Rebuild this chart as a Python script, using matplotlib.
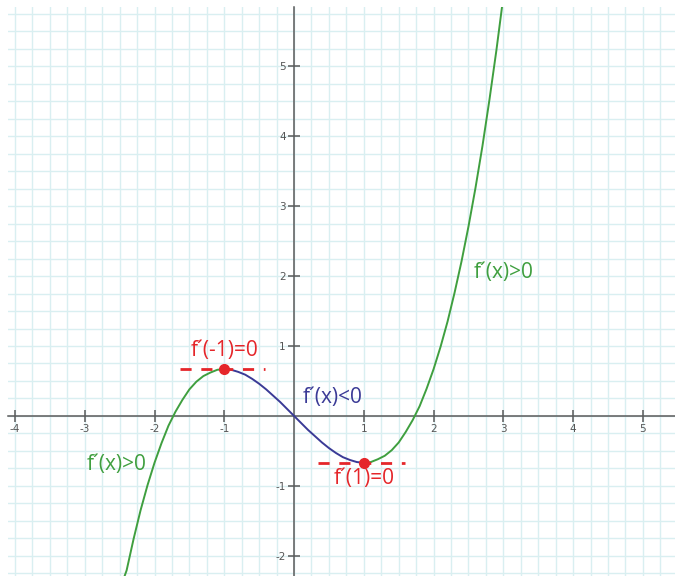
import matplotlib.pyplot as plt
import numpy as np

# colours
green = '#3f9f3f'
navy = '#3a3a96'
red = '#e5262a'
grid_col = '#d9eff1'
axis_col = '#5a5a5a'

# curve points
x_left = [-2.45, -2.4, -2.3, -2.2, -2.1, -2.0, -1.9, -1.8, -1.7, -1.6, -1.5,
          -1.4, -1.3, -1.2, -1.1, -1.0]
y_left = [-2.35, -2.21, -1.76, -1.35, -0.99, -0.67, -0.39, -0.14, 0.06, 0.23, 0.38,
          0.49, 0.57, 0.62, 0.66, 0.67]

x_mid = [-1.0, -0.9, -0.8, -0.7, -0.6, -0.5, -0.4, -0.3, -0.2, -0.1, 0.0,
         0.1, 0.2, 0.3, 0.4, 0.5, 0.6, 0.7, 0.8, 0.9, 1.0]
y_mid = [0.67, 0.66, 0.63, 0.59, 0.53, 0.46, 0.38, 0.29, 0.20, 0.10, 0.0,
         -0.10, -0.20, -0.29, -0.38, -0.46, -0.53, -0.59, -0.63, -0.66, -0.67]

x_right = [1.0, 1.1, 1.2, 1.3, 1.4, 1.5, 1.6, 1.7, 1.8, 1.9, 2.0, 2.1, 2.2,
           2.3, 2.4, 2.5, 2.6, 2.7, 2.8, 2.9, 3.0]
y_right = [-0.67, -0.66, -0.62, -0.57, -0.49, -0.38, -0.23, -0.06, 0.14, 0.39,
           0.67, 0.99, 1.35, 1.76, 2.21, 2.71, 3.26, 3.86, 4.52, 5.23, 6.0]

# extrema and their tangent lines
ext_x = [-1.0, 1.0]
ext_y = [0.67, -0.67]
tan_x0 = [-1.63, 0.34]
tan_x1 = [-0.42, 1.59]

x_ticks = [-4, -3, -2, -1, 1, 2, 3, 4, 5]
y_ticks = [-2, -1, 1, 2, 3, 4, 5]

fig = plt.figure(figsize=(6.75, 5.76), dpi=100, facecolor='white')
ax = fig.add_axes([8 / 675, 0, 1 - 8 / 675, 1 - 7 / 576])
ax.set_xlim(-4.10, 5.46)
ax.set_ylim(-2.29, 5.85)

# grid every 0.25
for gx in np.arange(-4.0, 5.5, 0.25):
    ax.axvline(gx, color=grid_col, lw=1, zorder=0)
for gy in np.arange(-2.25, 5.9, 0.25):
    ax.axhline(gy, color=grid_col, lw=1, zorder=0)

# axes through the origin
for s in ['top', 'right']:
    ax.spines[s].set_visible(False)
for s in ['left', 'bottom']:
    ax.spines[s].set_position(('data', 0))
    ax.spines[s].set_color(axis_col)
    ax.spines[s].set_linewidth(1.1)
    ax.spines[s].set_zorder(2)

ax.set_xticks(x_ticks)
ax.set_yticks(y_ticks)
ax.set_xticklabels([str(t) for t in x_ticks])
ax.set_yticklabels([str(t) for t in y_ticks])
ax.tick_params(direction='inout', length=8, width=1.1, color=axis_col,
               labelsize=7.5, labelcolor='#555555', pad=2)

# curve
ax.plot(x_left, y_left, color=green, lw=1.4, zorder=3)
ax.plot(x_mid, y_mid, color=navy, lw=1.4, zorder=3)
ax.plot(x_right, y_right, color=green, lw=1.4, zorder=3)

# tangents and points
for i in range(2):
    ax.plot([tan_x0[i], tan_x1[i]], [ext_y[i], ext_y[i]], color=red, lw=2,
            linestyle=(0, (4, 3.5)), zorder=3)
ax.plot(ext_x, ext_y, 'o', color=red, markersize=7, zorder=4)

fs = 15
fam = ['Open Sans', 'DejaVu Sans']
ax.text(-0.99, 0.94, 'f\u00b4(-1)=0', color=red, fontsize=fs, family=fam,
        ha='center', va='center')
ax.text(1.0, -0.89, 'f\u00b4(1)=0', color=red, fontsize=fs, family=fam,
        ha='center', va='center')
ax.text(0.13, 0.27, 'f\u00b4(x)<0', color=navy, fontsize=fs, family=fam,
        ha='left', va='center')
ax.text(2.58, 2.05, 'f\u00b4(x)>0', color=green, fontsize=fs, family=fam,
        ha='left', va='center')
ax.text(-2.97, -0.70, 'f\u00b4(x)>0', color=green, fontsize=fs, family=fam,
        ha='left', va='center')

fig.savefig('out.png', dpi=100, facecolor='white')
